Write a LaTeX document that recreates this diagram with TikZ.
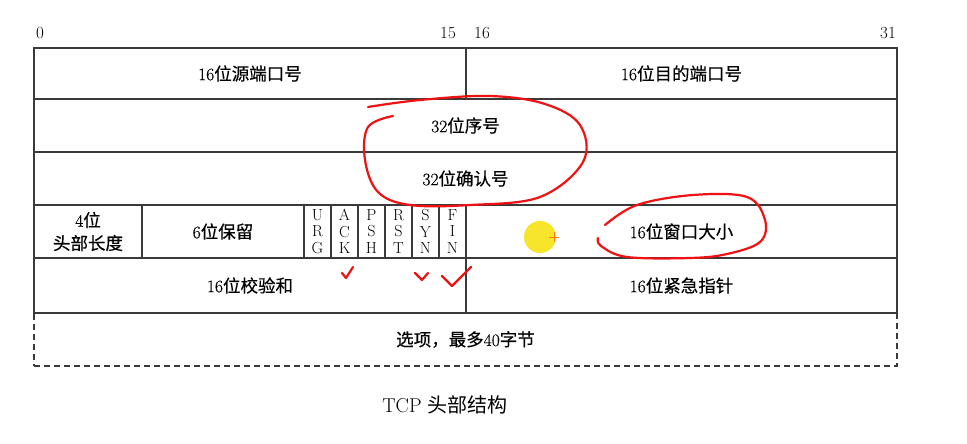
\documentclass[tikz,border=0pt]{standalone}
\usepackage{fontspec}
\newfontfamily\cjk[FakeBold=0.35]{Noto Sans CJK SC}
\newfontfamily\cjkplain{Noto Sans CJK SC}
\newfontfamily\numf[FakeBold=0.5]{Latin Modern Roman}
\newcommand{\zh}[1]{{\cjk #1}}
\definecolor{rule}{HTML}{3A3A3A}
\definecolor{pen}{HTML}{F01212}
\definecolor{marker}{HTML}{F6E52A}
\tikzset{
  cell/.style={draw=rule, line width=1.1pt, inner sep=0pt, align=center, font=\fontsize{17.5}{23}\selectfont\numf},
  flagbox/.style={cell, font=\fontsize{16}{16.8}\selectfont\normalfont},
  optbox/.style={cell, dash pattern=on 6pt off 4pt},
  bitno/.style={inner sep=0pt, font=\fontsize{17}{18}\selectfont},
  ink/.style={pen, line width=2.2pt, line cap=round, line join=round},
}
% cell from (x1,y1) to (x2,y2), in pixels of the reference
\newcommand{\tcpcell}[7][cell]{\node[#1, minimum width={(#5-#3)*1pt}, minimum height={(#6-#4)*1pt}] (#2) at ({(#3+#5)/2},{(#4+#6)/2}) {#7};}

\begin{document}
\begin{tikzpicture}[x=1pt, y=-1pt]
  \useasboundingbox (0,0) rectangle (967,444);
  % bit numbers
  \node[bitno] (bit0) at (40,33) {0};
  \node[bitno] (bit15) at (448,33) {15};
  \node[bitno] (bit16) at (482,33) {16};
  \node[bitno] (bit31) at (888,33) {31};
  % options, behind the solid rows
  \tcpcell[optbox]{opts}{34}{313}{897}{366}{\zh{选项，最多}40\zh{字节}}
  % rows 1 to 3
  \tcpcell{src}{34}{48}{466}{99}{16\zh{位源端口号}}
  \tcpcell{dst}{466}{48}{897}{99}{16\zh{位目的端口号}}
  \tcpcell{seq}{34}{99}{897}{152}{32\zh{位序号}}
  \tcpcell{ack}{34}{152}{897}{205}{32\zh{位确认号}}
  % row 4
  \tcpcell{hlen}{34}{205}{142}{258}{4\zh{位}\\\zh{头部长度}}
  \tcpcell{resv}{142}{205}{304}{258}{6\zh{位保留}}
  \foreach \a/\b/\c [count=\i from 0] in {U/R/G, A/C/K, P/S/H, R/S/T, S/Y/N, F/I/N} {
    \pgfmathsetmacro\xa{304+27*\i}
    \pgfmathsetmacro\xb{331+27*\i}
    \tcpcell[flagbox]{flag\i}{\xa}{205}{\xb}{258}{\a\\\b\\\c}
  }
  \tcpcell{win}{466}{205}{897}{258}{16\zh{位窗口大小}}
  % row 5
  \tcpcell{csum}{34}{258}{466}{313}{16\zh{位校验和}}
  \tcpcell{urgp}{466}{258}{897}{313}{16\zh{位紧急指针}}
  % caption
  \node[inner sep=0pt, font=\fontsize{20}{22}\selectfont] (caption) at (445,405) {TCP {\cjkplain 头部结构}};
  % hand marks
  \draw[ink] plot[smooth, tension=0.6] coordinates {(393,116) (368,127) (365,160) (378,192) (410,205) (470,205) (540,197) (583,162) (580,125) (545,104) (490,96) (420,100) (368,107)};
  \draw[ink] plot[smooth, tension=0.6] coordinates {(605,225) (637,205) (693,195) (747,197) (765,220) (760,242) (727,254) (690,258) (627,257) (601,246) (598,238)};
  \draw[ink] (342,273) -- (346,278) -- (353,267);
  \draw[ink] (415,273) -- (422,280) -- (428,273);
  \draw[ink] (442,276) -- (452,286) -- (471,267);
  \fill[marker] (540,237) circle (16);
  \draw[orange, line width=1pt] (549,237) -- (559,237) (554,232) -- (554,242);
\end{tikzpicture}
\end{document}
